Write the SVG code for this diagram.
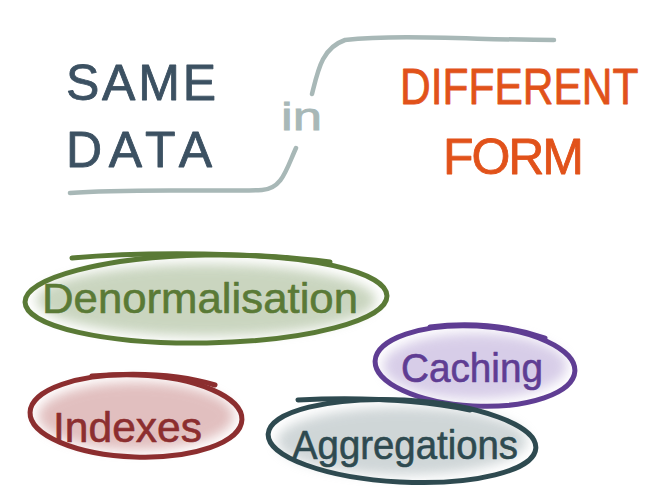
<svg xmlns="http://www.w3.org/2000/svg" width="660" height="495" viewBox="0 0 660 495">
<defs>
<filter id="soft" x="-20%" y="-40%" width="140%" height="180%"><feGaussianBlur stdDeviation="6"/></filter>
<style>
.title{font-family:"Liberation Sans","DejaVu Sans",sans-serif;font-size:50px;stroke-width:0.8;stroke-linejoin:round}
.dark{fill:#3c5162;stroke:#3c5162}
.orange{fill:#e1521a;stroke:#e1521a}
.hand{font-family:"Liberation Sans","DejaVu Sans",sans-serif;stroke-width:0.6;stroke-linejoin:round}
.ring{fill:none;stroke-width:5;stroke-linecap:round}
.wash{filter:url(#soft);opacity:0.55}
.conn{fill:none;stroke:#a8b8b7;stroke-width:4.5;stroke-linecap:round}
</style>
</defs>
<rect width="660" height="495" fill="#ffffff"/>
<g id="connectors">
<path class="conn" d="M70,193 C130,188 220,192 262,190 C282,189 286,170 296,148"/>
<path class="conn" d="M312,94 C318,70 322,48 345,40 C400,34 480,40 554,40"/>
</g>
<g id="same-data">
<text class="title dark" x="66" y="100" textLength="150" lengthAdjust="spacing">SAME</text>
<text class="title dark" x="66" y="167" textLength="146" lengthAdjust="spacing">DATA</text>
</g>
<g id="in">
<text x="281" y="130" font-family="Liberation Sans, sans-serif" font-size="38" fill="#a8b8b7" stroke="#a8b8b7" stroke-width="0.8" textLength="41" lengthAdjust="spacingAndGlyphs">in</text>
</g>
<g id="different-form">
<text class="title orange" transform="translate(400 104) scale(0.85 1)" x="0" y="0" font-size="48">DIFFERENT</text>
<text class="title orange" x="443" y="174" font-size="48" textLength="141" lengthAdjust="spacing">FORM</text>
</g>
<g id="denormalisation">
<ellipse class="wash" cx="206" cy="300" rx="170" ry="36" fill="#9fb48c"/>
<ellipse class="ring" cx="206" cy="299" rx="181" ry="44" transform="rotate(-1 206 299)" stroke="#5a7a36"/>
<path class="ring" d="M72,258 C150,251 260,253 330,262" stroke="#5a7a36"/>
<text class="hand" x="42" y="313" font-size="42" textLength="316" lengthAdjust="spacingAndGlyphs" fill="#5a7a36" stroke="#5a7a36">Denormalisation</text>
</g>
<g id="caching">
<ellipse class="wash" cx="475" cy="366" rx="92" ry="33" fill="#b8a6d6"/>
<ellipse class="ring" cx="475" cy="366" rx="100" ry="40" transform="rotate(3 475 366)" stroke="#5f3d93"/>
<path class="ring" d="M430,327 C470,322 510,326 545,338" stroke="#5f3d93"/>
<text class="hand" x="401" y="382" font-size="40" textLength="142" lengthAdjust="spacingAndGlyphs" fill="#5f3d93" stroke="#5f3d93">Caching</text>
</g>
<g id="indexes">
<ellipse class="wash" cx="136" cy="416" rx="98" ry="34" fill="#c98b8b"/>
<ellipse class="ring" cx="136" cy="416" rx="106" ry="41" transform="rotate(2 136 416)" stroke="#8c2e2f"/>
<path class="ring" d="M92,376 C140,372 180,374 215,385" stroke="#8c2e2f"/>
<text class="hand" x="53" y="442" font-size="42" textLength="149" lengthAdjust="spacingAndGlyphs" fill="#8c2e2f" stroke="#8c2e2f">Indexes</text>
</g>
<g id="aggregations">
<ellipse class="wash" cx="402" cy="441" rx="125" ry="34" fill="#a9b5b8"/>
<ellipse class="ring" cx="402" cy="441" rx="134" ry="41" transform="rotate(3 402 441)" stroke="#2e4a50"/>
<path class="ring" d="M298,400 C360,397 420,400 470,410" stroke="#2e4a50"/>
<text class="hand" x="292" y="459" font-size="40" textLength="226" lengthAdjust="spacingAndGlyphs" fill="#2e4a50" stroke="#2e4a50">Aggregations</text>
</g>
</svg>
